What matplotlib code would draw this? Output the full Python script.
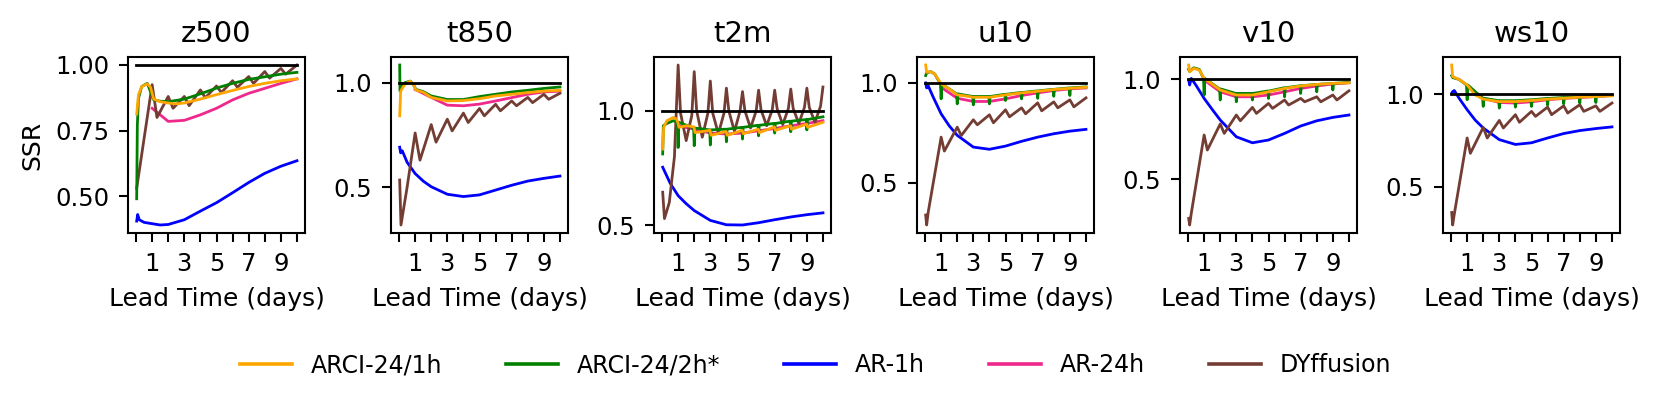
import matplotlib
matplotlib.use('Agg')
import matplotlib.pyplot as plt
from matplotlib.lines import Line2D

variables = ['z500', 't850', 't2m', 'u10', 'v10', 'ws10']
models = ['ARCI-24/1h', 'ARCI-24/2h*', 'AR-1h', 'AR-24h', 'DYffusion']
colors = ['#FFA500', '#008000', '#0000FF', '#F0288C', '#743D33']

xticks = [0, 1, 2, 3, 4, 5, 6, 7, 8, 9, 10]
xtick_labels = ['', '1', '', '3', '', '5', '', '7', '', '9', '']
ref_x = [0.0, 10.0]
ref_y = [1.0, 1.0]

# ---------------- AR-1h (blue) ----------------
ar1h_x = [0.04, 0.1, 0.2, 0.5, 1, 1.5, 2, 3, 4, 5, 6, 7, 8, 9, 10]
ar1h_z500 = [0.405, 0.43, 0.41, 0.40, 0.395, 0.39, 0.392, 0.41, 0.443, 0.475, 0.513, 0.552, 0.587, 0.614, 0.635]
ar1h_t850 = [0.692, 0.665, 0.675, 0.62, 0.566, 0.53, 0.503, 0.467, 0.456, 0.464, 0.487, 0.51, 0.53, 0.543, 0.554]
ar1h_t2m = [0.754, 0.745, 0.73, 0.685, 0.63, 0.595, 0.565, 0.522, 0.503, 0.502, 0.512, 0.525, 0.537, 0.547, 0.555]
ar1h_u10 = [1.0, 0.975, 0.985, 0.93, 0.845, 0.785, 0.737, 0.678, 0.667, 0.683, 0.707, 0.728, 0.745, 0.758, 0.767]
ar1h_v10 = [0.997, 0.972, 1.005, 0.97, 0.905, 0.85, 0.797, 0.713, 0.683, 0.697, 0.73, 0.767, 0.793, 0.81, 0.822]
ar1h_ws10 = [1.005, 1.014, 1.02, 0.978, 0.916, 0.86, 0.817, 0.754, 0.728, 0.737, 0.763, 0.787, 0.803, 0.814, 0.823]

# ---------------- AR-24h (pink) ----------------
ar24h_x = [1, 2, 3, 4, 5, 6, 7, 8, 9, 10]
ar24h_z500 = [0.835, 0.785, 0.789, 0.81, 0.835, 0.867, 0.892, 0.911, 0.93, 0.947]
ar24h_t850 = [0.968, 0.93, 0.893, 0.89, 0.898, 0.913, 0.929, 0.945, 0.956, 0.96]
ar24h_t2m = [0.935, 0.92, 0.903, 0.899, 0.903, 0.913, 0.923, 0.935, 0.945, 0.957]
ar24h_u10 = [0.978, 0.923, 0.907, 0.907, 0.92, 0.937, 0.95, 0.962, 0.97, 0.975]
ar24h_v10 = [0.997, 0.938, 0.913, 0.913, 0.922, 0.938, 0.955, 0.967, 0.977, 0.983]
ar24h_ws10 = [1.045, 0.978, 0.955, 0.952, 0.959, 0.97, 0.977, 0.982, 0.987, 0.993]

# ---------------- ARCI-24/1h (orange) ----------------
arci1h_z500_x = [0.04, 0.15, 0.35, 0.7, 0.9, 1.1, 1.5, 2, 2.5, 3, 4, 5, 6, 7, 8, 9, 10]
arci1h_z500_y = [0.813, 0.886, 0.918, 0.928, 0.915, 0.87, 0.86, 0.855, 0.852, 0.855, 0.87, 0.887, 0.903, 0.918, 0.93, 0.94, 0.947]
arci1h_t850_x = [0.04, 0.1, 0.35, 0.7, 0.9, 1.05, 1.5, 2, 3, 4, 5, 6, 7, 8, 9, 10]
arci1h_t850_y = [0.842, 0.96, 0.992, 1.008, 0.99, 0.965, 0.955, 0.93, 0.913, 0.915, 0.924, 0.937, 0.945, 0.953, 0.96, 0.964]
arci1h_t2m_x = [0.04, 0.1, 0.3, 0.7, 0.9, 1.0, 1.05, 1.5, 1.98, 2.05, 2.98, 3.05, 3.98, 4.05, 4.98, 5.05,
                5.98, 6.05, 6.98, 7.05, 7.98, 8.05, 8.98, 9.05, 10]
arci1h_t2m_y = [0.833, 0.928, 0.957, 0.971, 0.964, 0.945, 0.928, 0.935, 0.93, 0.905, 0.915, 0.893, 0.91, 0.893,
                0.915, 0.9, 0.92, 0.905, 0.93, 0.915, 0.935, 0.92, 0.942, 0.928, 0.95]
arci1h_u10_x = [0.04, 0.1, 0.35, 0.6, 1.0, 1.4, 2, 2.5, 3, 4, 5, 6, 7, 8, 9, 10]
arci1h_u10_y = [1.09, 1.053, 1.057, 1.045, 0.995, 0.975, 0.94, 0.935, 0.928, 0.928, 0.94, 0.95, 0.958, 0.967, 0.973, 0.978]
arci1h_v10_x = [0.04, 0.1, 0.35, 0.7, 1.0, 1.3, 2, 3, 4, 5, 6, 7, 8, 9, 10]
arci1h_v10_y = [1.072, 1.038, 1.055, 1.047, 1.005, 0.988, 0.947, 0.922, 0.922, 0.938, 0.955, 0.967, 0.975, 0.98, 0.983]
arci1h_ws10_x = [0.04, 0.1, 0.5, 1.0, 1.5, 2, 3, 4, 5, 6, 7, 8, 9, 10]
arci1h_ws10_y = [1.158, 1.095, 1.08, 1.05, 0.996, 0.973, 0.96, 0.96, 0.966, 0.973, 0.978, 0.984, 0.987, 0.991]

# ---------------- ARCI-24/2h* (green) ----------------
arci2h_z500_x = [0.04, 0.08, 0.15, 0.35, 0.7, 0.95, 1.1, 1.5, 2, 3, 4, 5, 6, 7, 8, 9, 10]
arci2h_z500_y = [0.49, 0.77, 0.873, 0.918, 0.93, 0.89, 0.867, 0.862, 0.86, 0.87, 0.89, 0.912, 0.93, 0.945, 0.955, 0.965, 0.972]
arci2h_t850_x = [0.04, 0.06, 0.15, 0.35, 0.7, 0.9, 1.05, 1.5, 2, 3, 4, 5, 6, 7, 8, 9, 10]
arci2h_t850_y = [1.085, 0.96, 0.98, 1.0, 1.008, 0.99, 0.968, 0.958, 0.937, 0.92, 0.92, 0.934, 0.945, 0.956, 0.964, 0.973, 0.98]
# t2m / wind panels: early part, then a level at each day with a one-step dip at each day
arci2h_t2m_start_x = [0.04, 0.08, 0.3, 0.7]
arci2h_t2m_start_y = [0.812, 0.935, 0.945, 0.957]
arci2h_t2m_level = [0.95, 0.925, 0.917, 0.92, 0.928, 0.937, 0.945, 0.955, 0.962, 0.974]
arci2h_t2m_dip = [0.84, 0.848, 0.851, 0.865, 0.877, 0.891, 0.903, 0.909, 0.917]
arci2h_u10_start_x = [0.04, 0.1, 0.35, 0.6]
arci2h_u10_start_y = [1.037, 1.05, 1.057, 1.045]
arci2h_u10_level = [0.995, 0.945, 0.932, 0.932, 0.943, 0.952, 0.96, 0.968, 0.975, 0.98]
arci2h_u10_dip = [0.92, 0.895, 0.89, 0.895, 0.912, 0.92, 0.923, 0.933, 0.937]
arci2h_v10_start_x = [0.04, 0.1, 0.35, 0.7]
arci2h_v10_start_y = [1.05, 1.04, 1.058, 1.05]
arci2h_v10_level = [1.005, 0.952, 0.93, 0.93, 0.942, 0.958, 0.968, 0.975, 0.98, 0.985]
arci2h_v10_dip = [0.922, 0.897, 0.888, 0.897, 0.905, 0.913, 0.93, 0.938, 0.947]
arci2h_ws10_start_x = [0.04, 0.1, 0.5]
arci2h_ws10_start_y = [1.1, 1.09, 1.08]
arci2h_ws10_level = [1.05, 0.978, 0.965, 0.965, 0.97, 0.977, 0.982, 0.986, 0.99, 0.993]
arci2h_ws10_dip = [0.97, 0.934, 0.925, 0.93, 0.934, 0.941, 0.948, 0.952, 0.955]

# ---------------- DYffusion (brown) ----------------
dyf_z500_x = [0.04, 0.5, 1, 1.3, 2, 2.3, 3, 3.3, 4, 4.3, 5, 5.3, 6, 6.3, 7, 7.3, 8, 8.3, 9, 9.3, 10]
dyf_z500_y = [0.53, 0.72, 0.925, 0.80, 0.88, 0.835, 0.88, 0.845, 0.905, 0.875, 0.92, 0.895, 0.94, 0.915,
              0.956, 0.93, 0.975, 0.95, 0.987, 0.965, 1.0]
dyf_t850_x = [0.04, 0.12, 0.5, 1, 1.3, 2, 2.3, 3, 3.3, 4, 4.3, 5, 5.3, 6, 6.3, 7, 7.3, 8, 8.3, 9, 9.3, 10]
dyf_t850_y = [0.535, 0.32, 0.5, 0.76, 0.63, 0.80, 0.716, 0.826, 0.77, 0.855, 0.81, 0.877, 0.842, 0.897, 0.866,
              0.913, 0.89, 0.93, 0.905, 0.945, 0.921, 0.95]
dyf_t2m_x = [0.04, 0.15, 0.45, 0.77, 1.0, 1.15, 1.5, 1.85, 2.0, 2.15, 2.5, 2.85, 3.0, 3.15, 3.5, 3.85, 4.0,
             4.15, 4.5, 4.85, 5.0, 5.15, 5.5, 5.85, 6.0, 6.15, 6.5, 6.85, 7.0, 7.15, 7.5, 7.85, 8.0, 8.15,
             8.5, 8.85, 9.0, 9.15, 9.5, 9.85, 10.0]
dyf_t2m_y = [0.645, 0.53, 0.60, 0.80, 1.20, 0.99, 0.87, 0.98, 1.171, 1.0, 0.885, 0.99, 1.13, 0.99, 0.90,
             0.99, 1.099, 1.0, 0.91, 1.0, 1.084, 1.0, 0.925, 1.0, 1.09, 1.005, 0.935, 1.005, 1.09, 1.01,
             0.94, 1.01, 1.095, 1.01, 0.945, 1.015, 1.099, 1.015, 0.95, 1.02, 1.104]
dyf_wind_x = [0.04, 0.1, 0.2, 1, 1.2, 2, 2.25, 3, 3.25, 4, 4.25, 5, 5.25, 6, 6.25, 7, 7.25, 8, 8.25, 9, 9.25, 10]
dyf_u10_y = [0.337, 0.287, 0.353, 0.728, 0.658, 0.778, 0.736, 0.815, 0.79, 0.84, 0.80, 0.865, 0.83, 0.875,
             0.845, 0.9, 0.86, 0.905, 0.875, 0.915, 0.88, 0.925]
dyf_v10_y = [0.305, 0.272, 0.33, 0.722, 0.647, 0.777, 0.73, 0.822, 0.793, 0.86, 0.83, 0.88, 0.855, 0.897,
             0.872, 0.905, 0.888, 0.913, 0.888, 0.922, 0.897, 0.943]
dyf_ws10_y = [0.36, 0.292, 0.35, 0.763, 0.68, 0.82, 0.763, 0.858, 0.817, 0.889, 0.848, 0.907, 0.88, 0.93,
              0.889, 0.937, 0.898, 0.943, 0.907, 0.937, 0.907, 0.952]

yticks_z500 = [0.5, 0.75, 1.0]
yticks_other = [0.5, 1.0]


def dipped(start_x, start_y, level, dip):
    xs, ys = list(start_x), list(start_y)
    for i, lv in enumerate(level):
        d = i + 1
        if i < len(dip):
            xs += [d - 0.04, d, d + 0.04]
            ys += [lv, dip[i], lv]
        else:
            xs.append(d)
            ys.append(lv)
    return xs, ys


green_series = {
    'z500': (arci2h_z500_x, arci2h_z500_y),
    't850': (arci2h_t850_x, arci2h_t850_y),
    't2m': dipped(arci2h_t2m_start_x, arci2h_t2m_start_y, arci2h_t2m_level, arci2h_t2m_dip),
    'u10': dipped(arci2h_u10_start_x, arci2h_u10_start_y, arci2h_u10_level, arci2h_u10_dip),
    'v10': dipped(arci2h_v10_start_x, arci2h_v10_start_y, arci2h_v10_level, arci2h_v10_dip),
    'ws10': dipped(arci2h_ws10_start_x, arci2h_ws10_start_y, arci2h_ws10_level, arci2h_ws10_dip),
}
orange_series = {
    'z500': (arci1h_z500_x, arci1h_z500_y), 't850': (arci1h_t850_x, arci1h_t850_y),
    't2m': (arci1h_t2m_x, arci1h_t2m_y), 'u10': (arci1h_u10_x, arci1h_u10_y),
    'v10': (arci1h_v10_x, arci1h_v10_y), 'ws10': (arci1h_ws10_x, arci1h_ws10_y),
}
blue_series = {'z500': ar1h_z500, 't850': ar1h_t850, 't2m': ar1h_t2m,
               'u10': ar1h_u10, 'v10': ar1h_v10, 'ws10': ar1h_ws10}
pink_series = {'z500': ar24h_z500, 't850': ar24h_t850, 't2m': ar24h_t2m,
               'u10': ar24h_u10, 'v10': ar24h_v10, 'ws10': ar24h_ws10}
brown_series = {
    'z500': (dyf_z500_x, dyf_z500_y), 't850': (dyf_t850_x, dyf_t850_y),
    't2m': (dyf_t2m_x, dyf_t2m_y), 'u10': (dyf_wind_x, dyf_u10_y),
    'v10': (dyf_wind_x, dyf_v10_y), 'ws10': (dyf_wind_x, dyf_ws10_y),
}

W, H = 1661, 407
fig = plt.figure(figsize=(W / 100, H / 100), dpi=100)
lefts = [128, 391, 654, 917, 1180, 1443]
lw = 2.0
for i, var in enumerate(variables):
    ax = fig.add_axes([lefts[i] / W, 1 - 233 / H, 177 / W, 176 / H])
    ax.plot(ar1h_x, blue_series[var], color=colors[2], lw=lw)
    ax.plot(ar24h_x, pink_series[var], color=colors[3], lw=lw)
    bx, by = brown_series[var]
    ax.plot(bx, by, color=colors[4], lw=lw)
    gx, gy = green_series[var]
    ax.plot(gx, gy, color=colors[1], lw=lw)
    ox, oy = orange_series[var]
    ax.plot(ox, oy, color=colors[0], lw=lw)
    ax.plot(ref_x, ref_y, color='black', lw=lw)
    ax.set_title(var, fontsize=21, pad=11)
    ax.set_xticks(xticks)
    ax.set_xticklabels(xtick_labels)
    if var == 'z500':
        ax.set_yticks(yticks_z500)
        ax.set_yticklabels(['%.2f' % v for v in yticks_z500])
        ax.set_ylabel('SSR', fontsize=18, labelpad=8)
    else:
        ax.set_yticks(yticks_other)
        ax.set_yticklabels(['%.1f' % v for v in yticks_other])
    ax.set_xlabel('Lead Time (days)', fontsize=18, labelpad=8)
    ax.tick_params(axis='both', labelsize=17.5, length=6.5, width=1.5, pad=7)
    for s in ax.spines.values():
        s.set_linewidth(1.5)

handles = [Line2D([0], [0], color=c, lw=2.6) for c in colors]
fig.legend(handles, models, loc='center', bbox_to_anchor=(0.491, 0.103), ncol=5,
           frameon=False, fontsize=17, columnspacing=2.7, handlelength=2.2)
fig.savefig('out.png', dpi=100)
